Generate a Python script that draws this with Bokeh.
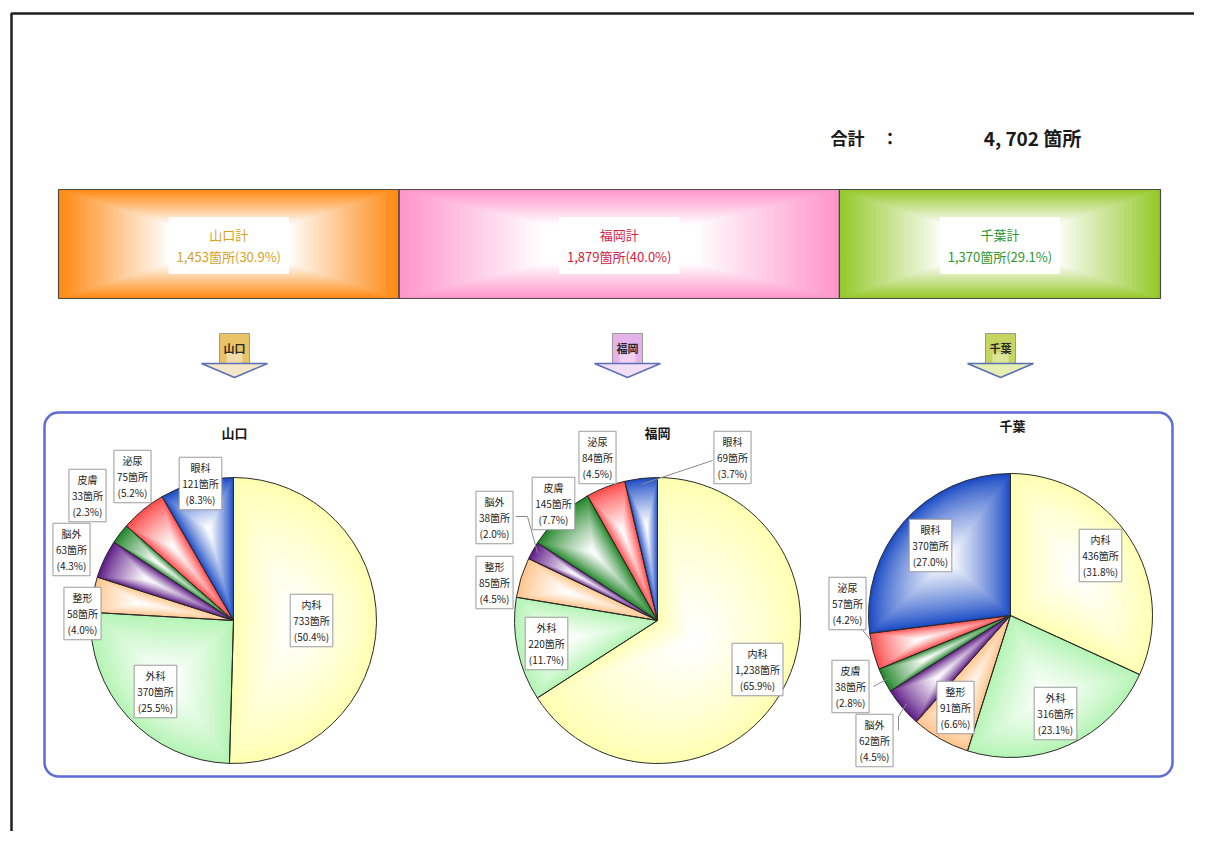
import math
from bokeh.plotting import figure
from bokeh.models import Range1d, BoxAnnotation
from bokeh.core.properties import value
from bokeh.embed import file_html
from bokeh.resources import INLINE

# ---------------- data ----------------
prefectures = ["山口", "福岡", "千葉"]
departments = ["内科", "外科", "整形", "脳外", "皮膚", "泌尿", "眼科"]
yamaguchi = [733, 370, 58, 63, 33, 75, 121]
fukuoka = [1238, 220, 85, 38, 145, 84, 69]
chiba = [436, 316, 91, 62, 38, 57, 370]
series = [yamaguchi, fukuoka, chiba]
unit = "箇所"

# ---------------- style / layout ----------------
FONT = "Noto Sans CJK JP"
W, HH = 1194, 831
H = 847


def Y(sy):
    return H - sy


def mix(hexc, t):
    hexc = hexc.lstrip("#")
    r, g, b = (int(hexc[i:i + 2], 16) for i in (0, 2, 4))
    r = round(r + (255 - r) * t)
    g = round(g + (255 - g) * t)
    b = round(b + (255 - b) * t)
    return "#%02x%02x%02x" % (r, g, b)


dept_colors = ["#FFFFB2", "#B4F4B4", "#FFC48A", "#5E1A86", "#22862A", "#FF4A4A", "#1B4CC6"]
bar_colors = ["#FF8A14", "#FF96CB", "#96C92C"]
bar_text_colors = ["#D6A21E", "#D42040", "#2E962E"]
arrow_colors = ["#E8C264", "#E6B2EA", "#C6D462"]
arrow_head_colors = ["#F4E6C8", "#F4DEF6", "#E6EEB4"]

totals = [sum(s) for s in series]
grand = sum(totals)

p = figure(width=W, height=HH, x_range=Range1d(0, W), y_range=Range1d(H - HH, H),
           output_backend="svg", toolbar_location=None, x_axis_type=None, y_axis_type=None,
           min_border=0, outline_line_color=None, background_fill_color="white",
           border_fill_color="white")
p.xgrid.visible = False
p.ygrid.visible = False

# page frame (top & left edge lines)
p.add_layout(BoxAnnotation(left=11, right=1500, top=Y(13), bottom=-300, fill_alpha=0,
                           line_color="#1e1e1e", line_alpha=1, line_width=2.5, level="underlay"))

# ---------------- grand total ----------------
p.text(x=[830], y=[Y(137)], text=["合計\u3000："], text_font=value(FONT), text_font_size="17px",
       text_font_style="bold", text_align="left", text_baseline="middle", text_color="#1a1a1a")
p.text(x=[1032], y=[Y(137)], text=[f"{grand:,}".replace(",", ", ") + " " + unit],
       text_font=value(FONT), text_font_size="19px", text_font_style="bold",
       text_align="center", text_baseline="middle", text_color="#1a1a1a")

# ---------------- stacked share bar ----------------
BAR_L, BAR_R = 58, 1160
span = grand * W / (BAR_R - BAR_L)
a = -BAR_L * span / W
p.extra_x_ranges = {"cnt": Range1d(a, a + span)}

cum = [0]
for t in totals:
    cum.append(cum[-1] + t)
bar_cy, bar_hh = Y(243.5), 54.5
N = 40
ql, qr, qt, qb, qc = [], [], [], [], []
for i in range(3):
    cx = (cum[i] + cum[i + 1]) / 2
    hw = (cum[i + 1] - cum[i]) / 2
    for k in range(N):
        s = 1 - k / N
        t = min(1.0, (k / N) * 1.55)
        ql.append(cx - s * hw)
        qr.append(cx + s * hw)
        qt.append(bar_cy + s * bar_hh)
        qb.append(bar_cy - s * bar_hh)
        qc.append(mix(bar_colors[i], t))
p.quad(left=ql, right=qr, top=qt, bottom=qb, fill_color=qc, line_color=None, x_range_name="cnt")
p.quad(left=cum[:-1], right=cum[1:], top=bar_cy + bar_hh, bottom=bar_cy - bar_hh,
       fill_color=None, line_color="#4a4a4a", line_width=1.2, x_range_name="cnt")
bar_texts = [f"{prefectures[i]}計\n{totals[i]:,}{unit}({totals[i] / grand * 100:.1f}%)" for i in range(3)]
p.text(x=[(cum[i] + cum[i + 1]) / 2 for i in range(3)], y=[Y(245)] * 3, text=bar_texts,
       text_color=bar_text_colors, text_font=value(FONT), text_font_size="13px",
       text_align="center", text_baseline="middle", text_line_height=1.15,
       background_fill_color="white", background_fill_alpha=0.95, padding=8,
       x_range_name="cnt")

# ---------------- arrows ----------------
arrow_cx = [234, 627, 1000]
p.quad(left=[c - 15 for c in arrow_cx], right=[c + 15 for c in arrow_cx], top=Y(333), bottom=Y(363),
       fill_color=arrow_colors, line_color="#9a9a9a", line_width=1)
p.quad(left=[c - 8 for c in arrow_cx], right=[c + 8 for c in arrow_cx], top=Y(352), bottom=Y(363),
       fill_color=arrow_head_colors, line_color=None, fill_alpha=0.7)
p.patches(xs=[[c - 33, c + 33, c] for c in arrow_cx], ys=[[Y(363), Y(363), Y(377)]] * 3,
          fill_color=arrow_head_colors, line_color="#5A6FB5", line_width=1.5)
p.text(x=arrow_cx, y=[Y(347)] * 3, text=prefectures, text_font=value(FONT), text_font_size="11px",
       text_font_style="bold", text_align="center", text_baseline="middle", text_color="#2a2a2a")

# ---------------- rounded panel ----------------
p.add_layout(BoxAnnotation(left=44, right=1172, top=Y(412), bottom=Y(776), border_radius=14,
                           fill_alpha=0, line_color="#5C6BD6", line_alpha=1, line_width=2.5,
                           level="underlay"))

# ---------------- pies ----------------
pie_centers = [(233, 620), (657, 620), (1010, 615)]
pie_r = [143, 143, 142]
title_pos = [(234, 432), (657, 432), (1012, 425)]

label_pos = [
    [(311, 620), (155, 691), (82, 613), (71, 549), (87, 495), (132, 476), (200, 483)],
    [(757, 669), (546, 643), (494, 582), (494, 517), (553, 503), (597, 457), (732, 457)],
    [(1100, 555), (1055, 713), (955, 707), (874, 740), (850, 686), (847, 603), (930, 545)],
]
leaders = [
    (1, 6, [(712, 460)]),
    (1, 3, [(515, 516), (527, 516)]),
    (2, 5, [(860, 627)]),
    (2, 4, [(873, 686)]),
    (2, 3, [(898, 730), (898, 716)]),
]


def angles(vals):
    tot = sum(vals)
    out = []
    c = 0
    for v in vals:
        a0 = math.pi / 2 - 2 * math.pi * c / tot
        c += v
        a1 = math.pi / 2 - 2 * math.pi * c / tot
        out.append((a0, a1))
    return out


wx, wy, wr, ws, we, wc = [], [], [], [], [], []
ox, oy, orr, os_, oe = [], [], [], [], []
NL = 32
for pi, vals in enumerate(series):
    cx, cy = pie_centers[pi][0], Y(pie_centers[pi][1])
    r = pie_r[pi]
    for di, (a0, a1) in enumerate(angles(vals)):
        alpha = a0 - a1
        m = (a0 + a1) / 2
        d = 4 * r * math.sin(alpha / 2) / (3 * alpha)
        gx, gy = cx + d * math.cos(m), cy + d * math.sin(m)
        for k in range(NL):
            s = 1 - k / NL
            t = min(0.97, (k / NL) ** 0.85 * 1.05)
            wx.append(gx + s * (cx - gx))
            wy.append(gy + s * (cy - gy))
            wr.append(s * r)
            ws.append(a0)
            we.append(a1)
            wc.append(mix(dept_colors[di], t))
        ox.append(cx); oy.append(cy); orr.append(r); os_.append(a0); oe.append(a1)

p.wedge(x=wx, y=wy, radius=wr, start_angle=ws, end_angle=we, direction="clock",
        fill_color=wc, line_color=None)
p.wedge(x=ox, y=oy, radius=orr, start_angle=os_, end_angle=oe, direction="clock",
        fill_color=None, line_color="#2b2b2b", line_width=1)

# leader lines
lxs, lys = [], []
for pi, di, pts in leaders:
    vals = series[pi]
    a0, a1 = angles(vals)[di]
    m = (a0 + a1) / 2
    cx, cy = pie_centers[pi][0], Y(pie_centers[pi][1])
    ex, ey = cx + pie_r[pi] * 0.96 * math.cos(m), cy + pie_r[pi] * 0.96 * math.sin(m)
    lxs.append([q[0] for q in pts] + [ex])
    lys.append([Y(q[1]) for q in pts] + [ey])
p.multi_line(xs=lxs, ys=lys, line_color="#8a8a8a", line_width=1)

# labels
lx, ly, lt = [], [], []
for pi, vals in enumerate(series):
    tot = sum(vals)
    for di, v in enumerate(vals):
        lx.append(label_pos[pi][di][0])
        ly.append(Y(label_pos[pi][di][1]))
        lt.append(f"{departments[di]}\n{v:,}{unit}\n({v / tot * 100:.1f}%)")
p.text(x=lx, y=ly, text=lt, text_font=value(FONT), text_font_size="10px", text_color="#222222",
       text_align="center", text_baseline="middle", text_line_height=1.05,
       background_fill_color="white", border_line_color="#9a9a9a", border_line_width=1, padding=3)

# pie titles
p.text(x=[q[0] for q in title_pos], y=[Y(q[1]) for q in title_pos], text=prefectures,
       text_font=value(FONT), text_font_size="13px", text_font_style="bold",
       text_align="center", text_baseline="middle", text_color="#1a1a1a")

open("out.html", "w").write(file_html(p, INLINE))
